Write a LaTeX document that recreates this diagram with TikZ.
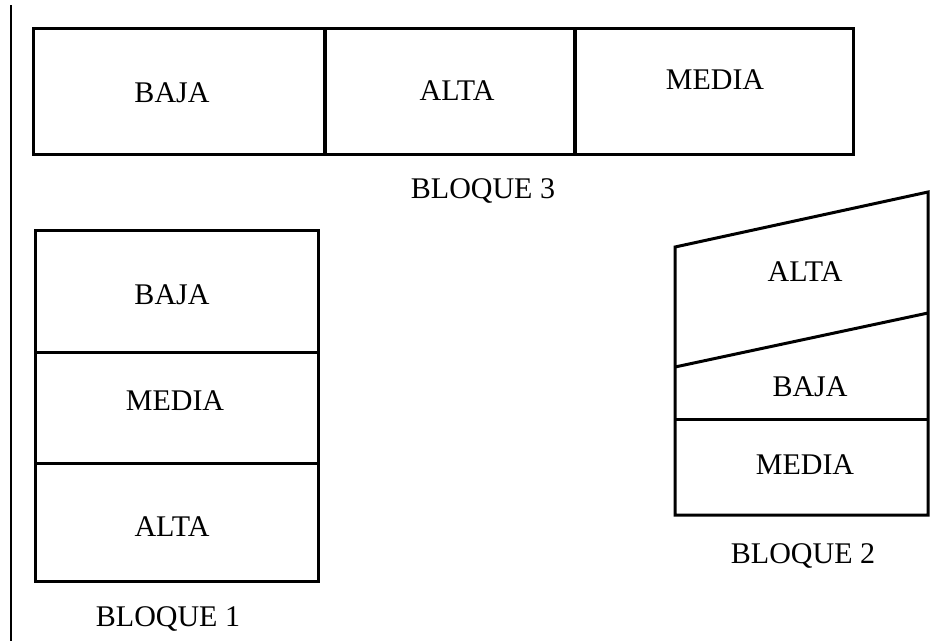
\documentclass[tikz,border=0pt]{standalone}
\usepackage{fontspec}
\setmainfont{Liberation Serif}
\begin{document}
\begin{tikzpicture}[x=1pt,y=-1pt,
  lbl/.style={inner sep=0pt,font=\fontsize{30}{36}\selectfont},
  frame/.style={line width=3pt,line join=miter}]
\useasboundingbox[fill=white] (0,0) rectangle (945,641);
% left rule
\draw[line width=2.2pt] (11,5) -- (11,641);
% Bloque 3
\draw[frame] (33,28) rectangle (853,154);
\draw[line width=4pt] (325,28) -- (325,154);
\draw[line width=3.5pt] (575,28) -- (575,154);
\node[lbl] (b3baja) at (172,93) {BAJA};
\node[lbl] (b3alta) at (457,91) {ALTA};
\node[lbl] (b3media) at (715,80) {MEDIA};
\node[lbl] (b3) at (483,191) {BLOQUE 3};
% Bloque 1
\draw[frame] (35,230) rectangle (318,581);
\draw[line width=3pt] (35,352) -- (318,352);
\draw[line width=3pt] (35,463) -- (318,463);
\node[lbl] (b1baja) at (172,295) {BAJA};
\node[lbl] (b1media) at (175,401) {MEDIA};
\node[lbl] (b1alta) at (172,527) {ALTA};
\node[lbl] (b1) at (168,619) {BLOQUE 1};
% Bloque 2
\draw[frame] (675,247) -- (928,192) -- (928,515) -- (675,515) -- cycle;
\draw[line width=3pt] (675,367) -- (928,313);
\draw[line width=3pt] (675,419) -- (928,419);
\node[lbl] (b2alta) at (805,272) {ALTA};
\node[lbl] (b2baja) at (810,387) {BAJA};
\node[lbl] (b2media) at (805,465) {MEDIA};
\node[lbl] (b2) at (803,556) {BLOQUE 2};
\end{tikzpicture}
\end{document}
